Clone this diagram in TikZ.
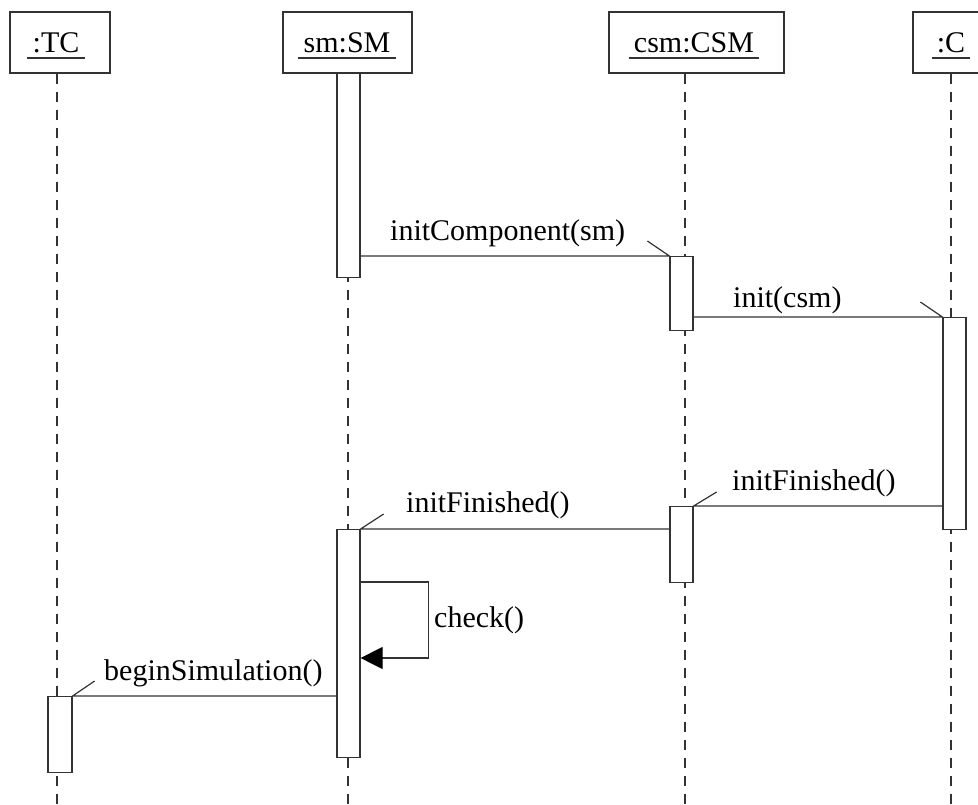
\documentclass[tikz,border=0pt]{standalone}
\usepackage{fontspec}
\setmainfont{Liberation Serif}
\usetikzlibrary{arrows.meta}
\begin{document}
\begin{tikzpicture}[x=1pt,y=-1pt,
  ln/.style={line width=1.2pt, draw=black!80},
  head/.style={ln, rectangle, fill=white, minimum height=61pt, inner sep=0pt},
  headtext/.style={anchor=base, inner sep=0pt, font=\fontsize{30}{36}\selectfont},
  bar/.style={ln, rectangle, fill=white, minimum width=23pt, inner sep=0pt, anchor=north},
  life/.style={ln, dash pattern=on 10pt off 8pt},
  msg/.style={ln, line join=miter},
  lbl/.style={anchor=base west, inner sep=0pt, font=\fontsize{30}{36}\selectfont},
  selfcall/.style={ln, -{Triangle[length=22pt,width=22pt,color=black]}},
]
\clip (0,0) rectangle (978,804);

% object heads
\node[head, minimum width=100pt] (tc)  at (60,42.5) {};
\node[head, minimum width=129pt] (sm)  at (347.5,42.5) {};
\node[head, minimum width=175pt] (csm) at (696.5,42.5) {};
\node[head, minimum width=76pt]  (c)   at (951,42.5) {};

\node[headtext] (tcT)  at (56,52)  {:TC};
\node[headtext] (smT)  at (347,52) {sm:SM};
\node[headtext] (csmT) at (694,52) {csm:CSM};
\node[headtext] (cT)   at (951,52) {:C};
\foreach \t in {tcT,smT,csmT,cT}
  \draw[ln] ([xshift=-5pt,yshift=-6pt]\t.base west) -- ([xshift=5pt,yshift=-6pt]\t.base east);

% lifelines
\coordinate (tcEnd)  at (57,804);
\coordinate (smEnd)  at (348,804);
\coordinate (csmEnd) at (685,804);
\coordinate (cEnd)   at (951,804);
\draw[life] (tc.south -| tcEnd) -- (tcEnd);
\draw[life] (sm.south -| smEnd) -- (smEnd);
\draw[life] (csm.south -| csmEnd) -- (csmEnd);
\draw[life] (c.south -| cEnd) -- (cEnd);

% activation bars
\node[bar, minimum height=204pt] (smA)  at (348.5,73)  {};
\node[bar, minimum height=74pt]  (csmA) at (681.5,256) {};
\node[bar, minimum height=212pt] (cA)   at (954.5,317) {};
\node[bar, minimum height=76pt]  (csmB) at (681.5,506) {};
\node[bar, minimum height=228pt] (smB)  at (348.5,529) {};
\node[bar, minimum height=76pt, minimum width=24pt] (tcA) at (60,696) {};

% message levels
\coordinate (y1) at (0,256);
\coordinate (y2) at (0,317);
\coordinate (y3) at (0,506);
\coordinate (y4) at (0,529);
\coordinate (y5a) at (0,582);
\coordinate (y5b) at (0,658);
\coordinate (y6) at (0,696);

% messages
\draw[msg] (smA.east |- y1) -- (csmA.north west) -- ++(-22,-15);
\draw[msg] (csmA.east |- y2) -- (cA.north west) -- ++(-22,-15);
\draw[msg] (cA.west |- y3) -- (csmB.north east) -- ++(23,-14);
\draw[msg] (csmB.west |- y4) -- (smB.north east) -- ++(23,-15);
\draw[selfcall] (smB.east |- y5a) -- ++(68,0) |- (smB.east |- y5b);
\draw[msg] (smB.west |- y6) -- (tcA.north east) -- ++(22,-15);

% message labels
\node[lbl] (l1) at (390,240) {initComponent(sm)};
\node[lbl] (l2) at (733,307) {init(csm)};
\node[lbl] (l3) at (732,490) {initFinished()};
\node[lbl] (l4) at (406,512) {initFinished()};
\node[lbl] (l5) at (434,627) {check()};
\node[lbl] (l6) at (104,680) {beginSimulation()};
\end{tikzpicture}
\end{document}
